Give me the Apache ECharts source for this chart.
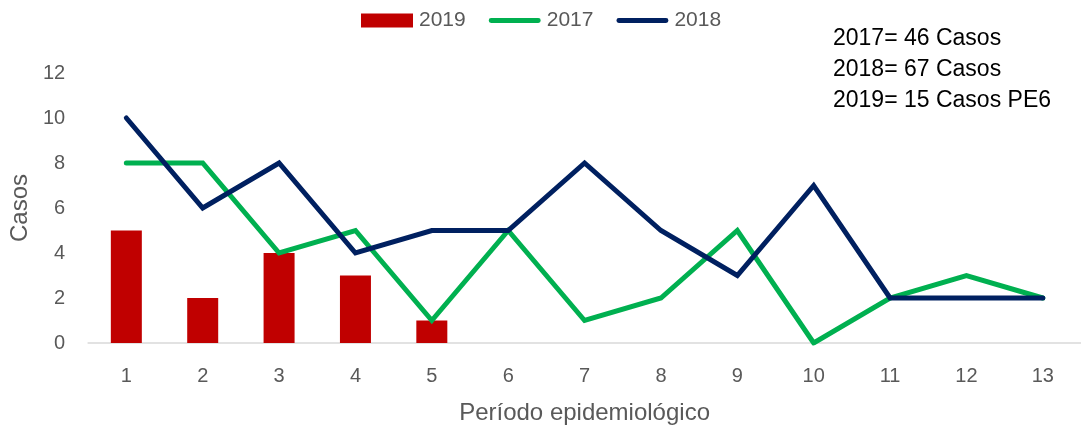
<!DOCTYPE html>
<html>
<head>
<meta charset="utf-8">
<script src="https://cdn.jsdelivr.net/npm/echarts@6/dist/echarts.min.js"></script>
<style>
html,body{margin:0;padding:0;background:#fff;}
#c{width:1081px;height:431px;}
</style>
</head>
<body>
<div id="c"></div>
<script>
const categories = ['1','2','3','4','5','6','7','8','9','10','11','12','13'];
const values2019 = [5, 2, 4, 3, 1];
const values2017 = [8, 8, 4, 5, 1, 5, 1, 2, 5, 0, 2, 3, 2];
const values2018 = [10, 6, 8, 4, 5, 5, 8, 5, 3, 7, 2, 2, 2];
const yTicks = [0, 2, 4, 6, 8, 10, 12];
const noteLines = ['2017= 46 Casos', '2018= 67 Casos', '2019= 15 Casos PE6'];

const FONT = '"Liberation Sans", Arial, sans-serif';
const LINE_ICON = 'path://M2.5,0h49a2.5,2.5 0 0 1 0,5h-49a2.5,2.5 0 0 1 0,-5z';
const chart = echarts.init(document.getElementById('c'));
chart.setOption({
  animation: false,
  backgroundColor: '#ffffff',
  textStyle: { fontFamily: FONT },
  grid: { left: 87, right: 0, top: 73, bottom: 88, containLabel: false },
  legend: {
    left: 361, top: 10, padding: 0,
    itemGap: 23,
    itemWidth: 52, itemHeight: 14,
    textStyle: { color: '#595959', fontSize: 21, fontFamily: FONT, padding: [0, 0, 0, 1] },
    data: [
      { name: '2019', icon: 'rect' },
      { name: '2017', icon: LINE_ICON },
      { name: '2018', icon: LINE_ICON }
    ]
  },
  xAxis: {
    type: 'category',
    data: categories,
    name: 'Período epidemiológico',
    nameLocation: 'middle',
    nameGap: 58,
    nameTextStyle: { color: '#595959', fontSize: 24, fontFamily: FONT },
    axisLine: { lineStyle: { color: '#d9d9d9', width: 1.5 } },
    axisTick: { show: false },
    axisLabel: { color: '#595959', fontSize: 20, margin: 23, fontFamily: FONT }
  },
  yAxis: {
    type: 'value',
    min: yTicks[0], max: yTicks[yTicks.length - 1], interval: 2,
    name: 'Casos',
    nameLocation: 'middle',
    nameGap: 56,
    nameRotate: 90,
    nameTextStyle: { color: '#595959', fontSize: 24, fontFamily: FONT },
    axisLine: { show: false },
    axisTick: { show: false },
    splitLine: { show: false },
    axisLabel: { color: '#595959', fontSize: 20, margin: 23, fontFamily: FONT }
  },
  series: [
    {
      name: '2019', type: 'bar', data: values2019, barWidth: 31,
      itemStyle: { color: '#C00000' }
    },
    {
      name: '2017', type: 'line', data: values2017, symbol: 'none',
      lineStyle: { color: '#00B050', width: 5, cap: 'round', join: 'miter' },
      itemStyle: { color: '#00B050' }
    },
    {
      name: '2018', type: 'line', data: values2018, symbol: 'none',
      lineStyle: { color: '#002060', width: 5, cap: 'round', join: 'miter' },
      itemStyle: { color: '#002060' }
    }
  ],
  graphic: [
    {
      type: 'text', left: 833, top: 23,
      style: {
        text: noteLines.join('\n'),
        fill: '#000000',
        font: '23px ' + FONT,
        lineHeight: 31
      }
    }
  ]
});
</script>
</body>
</html>
